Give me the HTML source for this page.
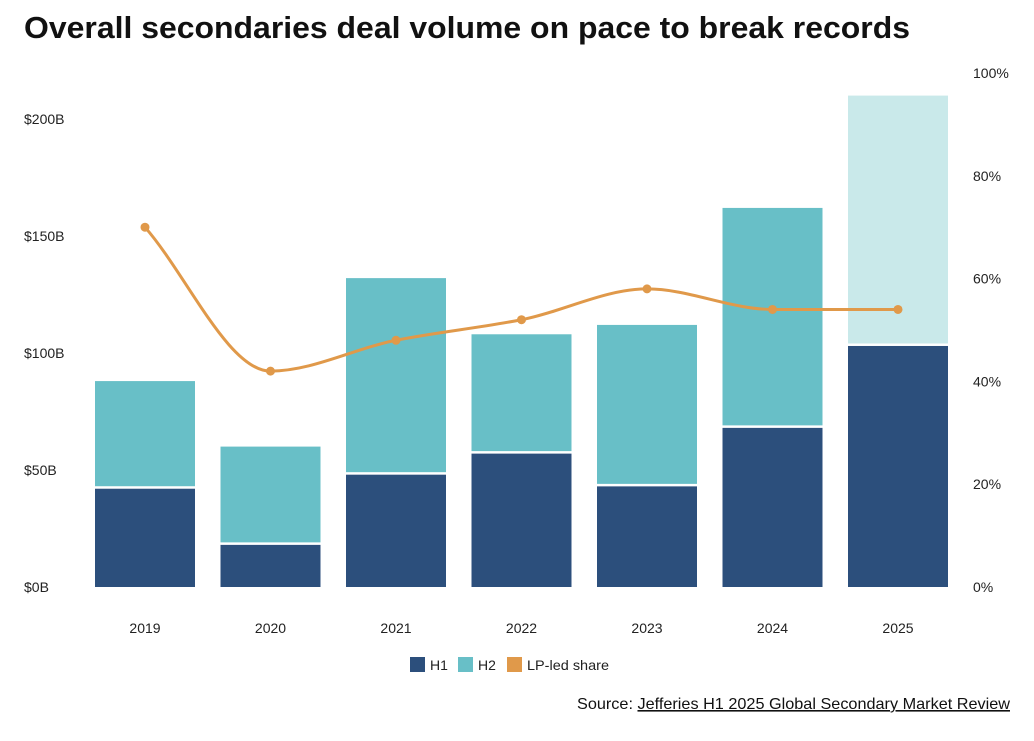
<!DOCTYPE html>
<html><head><meta charset="utf-8"><style>
body{margin:0;background:#fff;width:1034px;height:736px;overflow:hidden;font-family:"Liberation Sans",sans-serif}
</style></head><body>
<svg id="chart" width="1034" height="736" xmlns="http://www.w3.org/2000/svg">
<text x="24" y="38" font-size="31" font-weight="bold" fill="#111" textLength="886" lengthAdjust="spacingAndGlyphs">Overall secondaries deal volume on pace to break records</text>
<g id="axes"></g><g id="bars"></g><g id="line"></g>
<g font-size="14" fill="#222">
<rect x="410" y="657" width="15" height="15" fill="#2c4f7c"/>
<text x="430" y="670">H1</text>
<rect x="458" y="657" width="15" height="15" fill="#68bfc7"/>
<text x="478" y="670">H2</text>
<rect x="507" y="657" width="15" height="15" fill="#e0994a"/>
<text x="527" y="670" textLength="82" lengthAdjust="spacingAndGlyphs">LP-led share</text>
</g>
<text x="1010" y="709" font-size="16" fill="#111" text-anchor="end" textLength="433" lengthAdjust="spacingAndGlyphs">Source: <tspan text-decoration="underline">Jefferies H1 2025 Global Secondary Market Review</tspan></text>
</svg>
<script>
const years=["2019","2020","2021","2022","2023","2024","2025"];
const h1=[42,18,48,57,43,68,103];
const h2=[46,42,84,51,69,94,107];
const lpShare=[70,42,48,52,58,54,54];
const leftTicks=[0,50,100,150,200];
const rightTicks=[0,20,40,60,80,100];
const NS="http://www.w3.org/2000/svg";
const yL=v=>587-v*2.34, yR=v=>587-v*5.14, xC=i=>145+i*125.5;
function mk(tag,attrs,parent,txt){const e=document.createElementNS(NS,tag);for(const k in attrs)e.setAttribute(k,attrs[k]);if(txt!=null)e.textContent=txt;parent.appendChild(e);return e;}
const ax=document.getElementById('axes'),bg=document.getElementById('bars'),lg=document.getElementById('line');
leftTicks.forEach(t=>{const e=mk('text',{x:24,y:yL(t)+5,'font-size':14,fill:'#222'},ax,'$'+t+'B');

});
rightTicks.forEach(t=>{const e=mk('text',{x:973,y:yR(t)+5,'font-size':14,fill:'#222'},ax,t+'%');

});
years.forEach((y,i)=>{const e=mk('text',{x:xC(i),y:633,'font-size':14,fill:'#222','text-anchor':'middle'},ax,y);


const last=i===years.length-1;
const b1=mk('rect',{x:xC(i)-50,y:yL(h1[i]),width:100,height:yL(0)-yL(h1[i]),fill:'#2c4f7c'},bg);


const top=h1[i]+h2[i];
const b2=mk('rect',{x:xC(i)-50,y:yL(top),width:100,height:yL(h1[i])-yL(top)-2.5,fill:last?'#c9e9ea':'#68bfc7'},bg);

});
const pts=lpShare.map((v,i)=>[xC(i),yR(v)]);
const n=pts.length,dx=[],sl=[];
for(let i=0;i<n-1;i++){dx.push(pts[i+1][0]-pts[i][0]);sl.push((pts[i+1][1]-pts[i][1])/dx[i]);}
const m=[sl[0]];
for(let i=1;i<n-1;i++){m.push(sl[i-1]*sl[i]<=0?0:3*(dx[i-1]+dx[i])/((2*dx[i]+dx[i-1])/sl[i-1]+(dx[i]+2*dx[i-1])/sl[i]));}
m.push(sl[n-2]);
let d='M'+pts[0].join(',');
for(let i=0;i<n-1;i++){const h=dx[i]/3;
d+=' C'+(pts[i][0]+h)+','+(pts[i][1]+m[i]*h)+' '+(pts[i+1][0]-h)+','+(pts[i+1][1]-m[i+1]*h)+' '+pts[i+1].join(',');}
const pl=mk('path',{d:d,fill:'none',stroke:'#e0994a','stroke-width':3},lg);


pts.forEach((p,i)=>{const c=mk('circle',{cx:p[0],cy:p[1],r:4.5,fill:'#e0994a'},lg);

});
</script>
</body></html>
